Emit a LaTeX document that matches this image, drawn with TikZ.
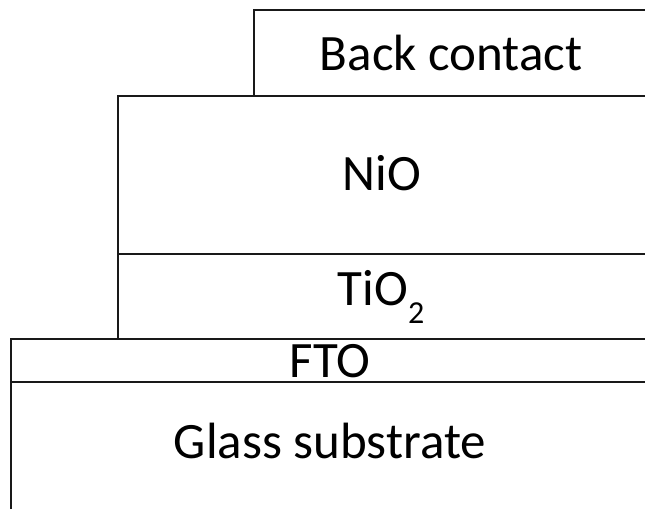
\documentclass[tikz,border=0pt]{standalone}
\usepackage{fontspec}
\setmainfont{Carlito}
\begin{document}
\begin{tikzpicture}[x=1pt,y=-1pt,
  layerline/.style={line width=2pt,draw=black!90,line join=miter},
  layertext/.style={anchor=base,inner sep=0pt,font=\fontsize{51}{61}\selectfont}]
\useasboundingbox (0,0) rectangle (645,509);
% layer outlines (open to the right and at the bottom)
\draw[layerline] (254,96) -- (254,10) -- (645,10);
\draw[layerline] (118,339) -- (118,96) -- (645,96);
\draw[layerline] (118,254) -- (645,254);
\draw[layerline] (11,509) -- (11,339) -- (645,339);
\draw[layerline] (11,382) -- (645,382);
% layer labels
\node[layertext] (back) at (451,70) {Back contact};
\node[layertext] (nio) at (382,190) {NiO};
\node[layertext] (tio) at (381,305) {TiO\raisebox{-18pt}{\fontsize{32}{32}\selectfont 2}};
\node[layertext] (fto) at (330,377) {FTO};
\node[layertext] (glass) at (330,458) {Glass substrate};
\end{tikzpicture}
\end{document}
